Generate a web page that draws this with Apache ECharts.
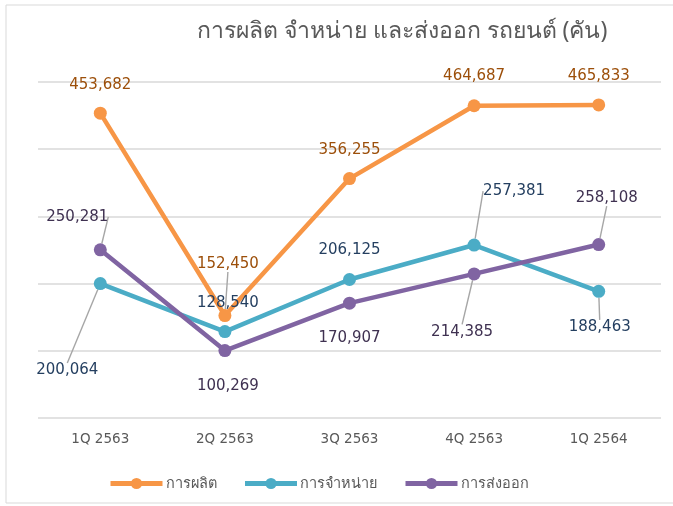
<!DOCTYPE html>
<html>
<head>
<meta charset="utf-8">
<script src="https://cdn.jsdelivr.net/npm/echarts@6/dist/echarts.min.js"></script>
<style>
  html, body { margin: 0; padding: 0; background: #fff; }
  #chart { width: 673px; height: 506px; }
</style>
</head>
<body>
<div id="chart"></div>
<script>
// ข้อมูล
var quarters = ['1Q 2563', '2Q 2563', '3Q 2563', '4Q 2563', '1Q 2564'];
var production = [453682, 152450, 356255, 464687, 465833];
var sales = [200064, 128540, 206125, 257381, 188463];
var exports = [250281, 100269, 170907, 214385, 258108];
var seriesNames = ['การผลิต', 'การจำหน่าย', 'การส่งออก'];

// label offsets from the point (dx, dy) and whether a leader line is drawn
var labelShift = [
    [[0, -28, 0], [3, -51, 1], [0, -28, 0], [0, -30, 0], [0, -29, 0]],
    [[-33, 87, 1], [3, -29, 0], [0, -29, 0], [40, -54, 1], [1, 36, 1]],
    [[-23, -33, 1], [3, 35, 0], [0, 35, 0], [-12, 58, 1], [8, -46, 1]]
];

var lineColors = ['#F79646', '#4BACC6', '#8064A2'];
var labelColors = ['#9C4F0A', '#243F60', '#3F3151'];

function buildData(values, si) {
    return values.map(function (v, i) {
        return {value: v, labelLine: {show: labelShift[si][i][2] == 1}};
    });
}

function makeSeries(name, values, si) {
    return {
        name: name,
        type: 'line',
        data: buildData(values, si),
        symbol: 'circle',
        symbolSize: 13,
        lineStyle: {width: 4.5, color: lineColors[si]},
        itemStyle: {color: lineColors[si]},
        label: {
            show: true,
            position: 'inside',
            color: labelColors[si],
            fontSize: 15,
            fontFamily: 'DejaVu Sans',
            formatter: function (p) { return echarts.format.addCommas(p.value); }
        },
        labelLine: {lineStyle: {color: '#a6a6a6', width: 1.4}},
        labelLayout: function (p) {
            var s = labelShift[si][p.dataIndex];
            return {dx: s[0], dy: s[1]};
        },
        emphasis: {disabled: true},
        animation: false
    };
}

var option = {
    backgroundColor: '#fff',
    title: {
        text: 'การผลิต จำหน่าย และส่งออก รถยนต์ (คัน)',
        left: 397,
        textAlign: 'center',
        top: 15,
        textStyle: {color: '#595959', fontSize: 23, fontWeight: 'normal', fontFamily: 'Noto Sans, DejaVu Sans, sans-serif'}
    },
    grid: {left: 38, right: 12, top: 82, bottom: 88, containLabel: false},
    legend: {
        bottom: 10,
        left: 103,
        itemWidth: 52,
        itemHeight: 14,
        itemGap: 26,
        lineStyle: {width: 5},
        textStyle: {color: '#595959', fontSize: 14.5, padding: [0, 0, 0, -2], fontFamily: 'Noto Sans, DejaVu Sans, sans-serif'},
        data: seriesNames
    },
    xAxis: {
        type: 'category',
        data: quarters,
        axisLine: {show: false},
        axisTick: {show: false},
        axisLabel: {color: '#595959', fontSize: 13.5, margin: 14, fontFamily: 'DejaVu Sans'}
    },
    yAxis: {
        type: 'value',
        min: 0,
        max: 500000,
        interval: 100000,
        axisLabel: {show: false},
        axisLine: {show: false},
        axisTick: {show: false},
        splitLine: {lineStyle: {color: '#d9d9d9', width: 1.5}}
    },
    graphic: [{
        type: 'rect',
        shape: {x: 6, y: 5, width: 700, height: 498},
        style: {fill: 'none', stroke: '#d9d9d9', lineWidth: 1},
        silent: true
    }],
    series: [
        makeSeries(seriesNames[0], production, 0),
        makeSeries(seriesNames[1], sales, 1),
        makeSeries(seriesNames[2], exports, 2)
    ]
};

var myChart = echarts.init(document.getElementById('chart'));
myChart.setOption(option);
</script>
</body>
</html>
